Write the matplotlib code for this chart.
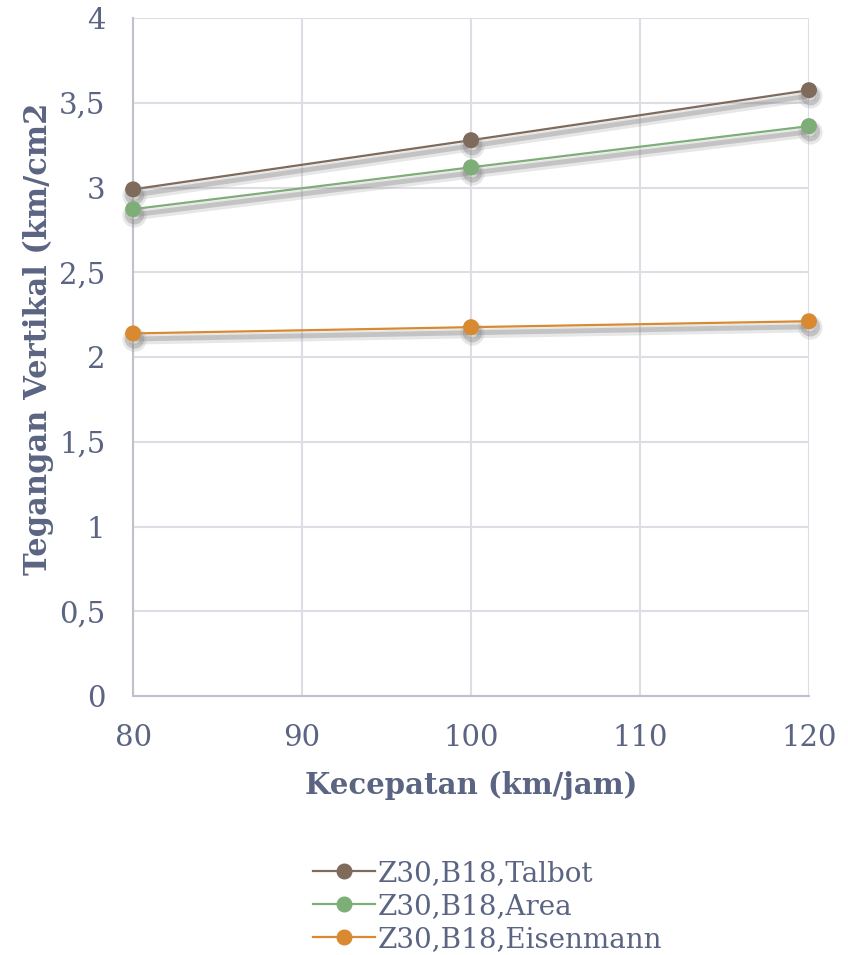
import matplotlib.pyplot as plt
import matplotlib.patheffects as pe
from matplotlib.lines import Line2D
from matplotlib.ticker import FuncFormatter

kecepatan = [80, 100, 120]
talbot = [2.99, 3.28, 3.575]
area = [2.873, 3.12, 3.363]
eisenmann = [2.14, 2.177, 2.212]

labels = ['Z30,B18,Talbot', 'Z30,B18,Area', 'Z30,B18,Eisenmann']
colors = ['#7e6b5c', '#7eae78', '#d98a30']
text_color = '#5b6482'
grid_color = '#dedde6'

plt.rcParams['font.family'] = ['DejaVu Serif']

fig = plt.figure(figsize=(8.48, 9.55), dpi=100)
ax = fig.add_axes([0.157, 0.271, 0.797, 0.710])

# soft grey shadow under each line (as in the original office chart)
shadow = [
    pe.SimpleLineShadow(offset=(1, -4.5), shadow_color='#a0a0a0', alpha=0.25, linewidth=7),
    pe.SimpleLineShadow(offset=(1, -4), shadow_color='#808080', alpha=0.35, linewidth=3.5),
    pe.Normal(),
]

for ys, lab, c in zip([talbot, area, eisenmann], labels, colors):
    ax.plot(kecepatan, ys, '-', color=c, lw=1.6, marker='o', markersize=10.5,
            label=lab, path_effects=shadow, clip_on=False, zorder=3)

ax.set_xlim(80, 120)
ax.set_ylim(0, 4)
ax.set_xticks([80, 90, 100, 110, 120])
ax.set_yticks([0, 0.5, 1, 1.5, 2, 2.5, 3, 3.5, 4])
ax.yaxis.set_major_formatter(FuncFormatter(lambda v, p: ('%g' % v).replace('.', ',')))
ax.grid(True, color=grid_color, lw=1.5)
ax.set_axisbelow(True)
for s in ['top', 'right']:
    ax.spines[s].set_visible(False)
for s in ['left', 'bottom']:
    ax.spines[s].set_color('#bfc1cf')
    ax.spines[s].set_linewidth(1.5)
ax.tick_params(axis='x', length=0, labelsize=21, colors=text_color, pad=20)
ax.tick_params(axis='y', length=0, labelsize=21, colors=text_color, pad=20)

ax.set_xlabel('Kecepatan (km/jam)', fontsize=21, fontweight='bold', color=text_color, labelpad=14)
fig.text(0.045, 0.645, 'Tegangan Vertikal (km/cm2', rotation=90, fontsize=22,
         fontweight='bold', color=text_color, ha='center', va='center')

handles = [Line2D([], [], color=c, lw=1.6, marker='o', markersize=10.5) for c in colors]
fig.legend(handles, labels, loc='center', bbox_to_anchor=(0.575, 0.051), frameon=False,
           fontsize=20, labelcolor=text_color, handlelength=2.2, handletextpad=0.1,
           labelspacing=0.22)

plt.savefig('out.png', dpi=100)
plt.close()
